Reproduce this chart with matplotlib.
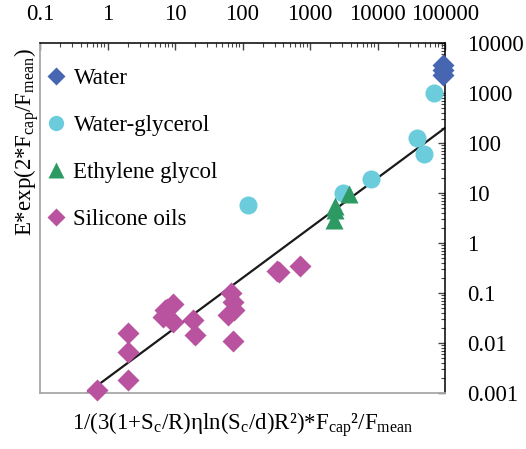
import matplotlib
matplotlib.use("Agg")
import matplotlib.pyplot as plt
from matplotlib.ticker import FixedLocator, LogLocator, NullFormatter

plt.rcParams['font.family'] = ['Liberation Serif', 'DejaVu Serif']
plt.rcParams['mathtext.fontset'] = 'custom'
plt.rcParams['mathtext.rm'] = 'Liberation Serif'
plt.rcParams['mathtext.it'] = 'Liberation Serif:italic'

# ---- data ----
water_x = [94400, 94400, 94400]
water_y = [3700, 2950, 2340]

wg_x = [68700, 38100, 48900, 7930, 3050, 122]
wg_y = [991, 127, 60.8, 19.2, 9.9, 5.8]

eg_x = [3780, 2340, 2340, 2290]
eg_y = [9.6, 5.6, 4.5, 2.9]

so_x = [0.69, 2.03, 2.03, 2.03, 6.7, 7.7, 9.4, 9.4, 7.1, 18.7, 19.8,
        66.8, 73, 74.9, 60.4, 73, 347, 328, 711]
so_y = [0.00116, 0.00184, 0.00655, 0.0157, 0.0328, 0.0483, 0.0608, 0.026,
        0.046, 0.0282, 0.0146, 0.101, 0.0655, 0.0447, 0.0366, 0.0109,
        0.26, 0.28, 0.344]

fit_x = [0.5, 100000]
fit_y = [0.001, 200]

x_ticks = [0.1, 1, 10, 100, 1000, 10000, 100000]
x_ticklabels = ['0.1', '1', '10', '100', '1000', '10000', '100000']
y_ticks = [0.001, 0.01, 0.1, 1, 10, 100, 1000, 10000]
y_ticklabels = ['0.001', '0.01', '0.1', '1', '10', '100', '1000', '10000']

labels = ['Water', 'Water-glycerol', 'Ethylene glycol', 'Silicone oils']
colors = ['#4766B2', '#6BCCDC', '#2E9A63', '#B9539F']

W, H = 526, 449
fig = plt.figure(figsize=(W / 100, H / 100), dpi=100)
ax = fig.add_axes([40 / W, 1 - 393 / H, 405 / W, 350 / H])

ax.set_xscale('log')
ax.set_yscale('log')
ax.set_xlim(0.1, 100000)
ax.set_ylim(0.001, 10000)

ax.plot(fit_x, fit_y, color='#1a1a1a', lw=1.6, zorder=2)

ax.plot(so_x, so_y, ls='none', marker='D', ms=11, color=colors[3],
        mec='none', zorder=3, clip_on=False)
ax.plot(wg_x, wg_y, ls='none', marker='o', ms=13, color=colors[1],
        mec='none', zorder=3, clip_on=False)
ax.plot(eg_x, eg_y, ls='none', marker='^', ms=13, color=colors[2],
        mec='none', zorder=4, clip_on=False)
ax.plot(water_x, water_y, ls='none', marker='D', ms=11, color=colors[0],
        mec='none', zorder=5, clip_on=False)

# spines
for s in ['left', 'bottom']:
    ax.spines[s].set_color('#A8A8A8')
    ax.spines[s].set_linewidth(1.3)
for s in ['top', 'right']:
    ax.spines[s].set_color('black')
    ax.spines[s].set_linewidth(1.1)

ax.xaxis.set_major_locator(FixedLocator(x_ticks))
ax.xaxis.set_ticklabels(x_ticklabels)
ax.xaxis.set_minor_locator(LogLocator(base=10, subs=range(2, 10), numticks=20))
ax.xaxis.set_minor_formatter(NullFormatter())
ax.yaxis.set_major_locator(FixedLocator(y_ticks))
ax.yaxis.set_ticklabels(y_ticklabels)
ax.yaxis.set_minor_locator(LogLocator(base=10, subs=range(2, 10), numticks=20))
ax.yaxis.set_minor_formatter(NullFormatter())

ax.tick_params(axis='x', which='both', top=True, bottom=False, labeltop=True,
               labelbottom=False, direction='in', color='#444444')
ax.tick_params(axis='y', which='both', right=True, left=False, labelright=True,
               labelleft=False, direction='in', color='#444444')
ax.tick_params(which='major', length=5, width=1, labelsize=16.5, pad=13)
ax.tick_params(axis='y', which='major', pad=16)
ax.tick_params(which='minor', length=3, width=0.8)

# legend
handles = [
    plt.Line2D([], [], ls='none', marker='D', ms=9, color=colors[0], mec='none'),
    plt.Line2D([], [], ls='none', marker='o', ms=11, color=colors[1], mec='none'),
    plt.Line2D([], [], ls='none', marker='^', ms=11, color=colors[2], mec='none'),
    plt.Line2D([], [], ls='none', marker='D', ms=9, color=colors[3], mec='none'),
]
ax.legend(handles, labels, loc='upper left', bbox_to_anchor=(-0.005, 0.955),
          frameon=False, prop={'family': 'Liberation Serif', 'size': 16.5},
          handlelength=0.8, handletextpad=0.35,
          labelspacing=1.13, borderaxespad=0.0)

fig.text(27 / W, 1 - 142 / H, r'E*exp(2*F$_\mathrm{cap}$/F$_\mathrm{mean}$)',
         rotation=90, ha='center', va='center', fontsize=16.5,
         family='Liberation Serif')
fig.text(243 / W, 1 - 425 / H,
         r'1/(3(1+S$_\mathrm{c}$/R)ηln(S$_\mathrm{c}$/d)R²)*F$_\mathrm{cap}$²/F$_\mathrm{mean}$',
         ha='center', va='center', fontsize=16.5, family='Liberation Serif')

fig.savefig('out.png', dpi=100)
